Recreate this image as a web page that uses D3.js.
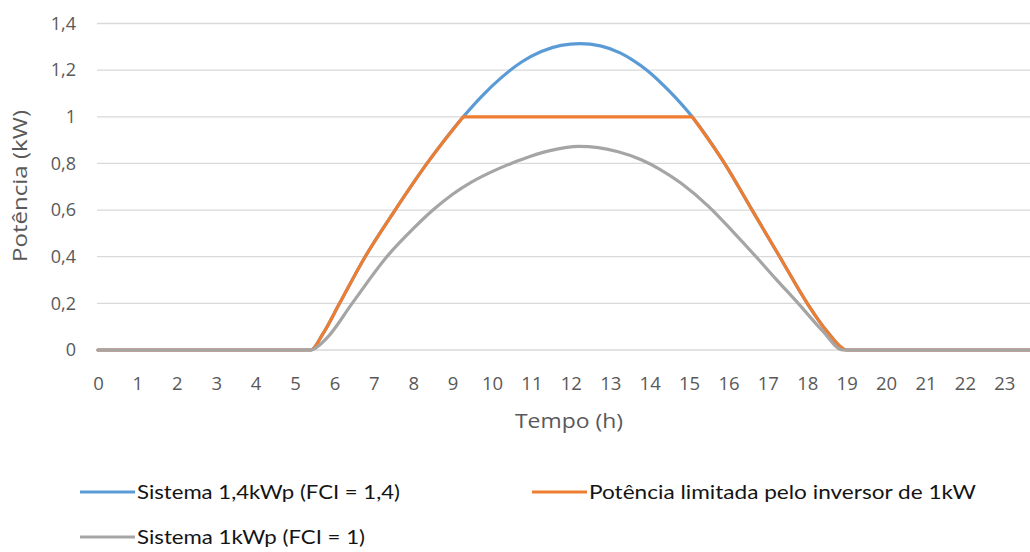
<!DOCTYPE html>
<html>
<head>
<meta charset="utf-8">
<script src="https://cdn.jsdelivr.net/npm/d3@7/dist/d3.min.js"></script>
<style>
  html, body { margin: 0; padding: 0; background: #ffffff; }
  svg { display: block; }
</style>
</head>
<body>
<svg id="chart" width="1030" height="552"></svg>
<script>
// Sistema 1,4kWp (FCI = 1,4): hour of day and power (kW)
const blueHours  = [0, 5.4, 5.71, 6.13, 6.78, 7.54, 8.35, 9.27, 9.75, 10.25, 10.75, 11.25, 11.75, 12.23,
                    12.75, 13.25, 13.6, 13.93, 14.5, 15.08, 15.9, 16.6, 17.3, 18.0, 18.5, 19.0, 23.83];
const blueValues = [0, 0,   0.07, 0.2,  0.4,  0.6,  0.8,  1.0,  1.09, 1.17,  1.235, 1.28,  1.306, 1.314,
                    1.304, 1.274, 1.24, 1.2,  1.11, 1.0,   0.8,  0.6,  0.4,  0.2,  0.08, 0,    0];

// Potência limitada pelo inversor de 1kW
const orangeHours  = [0, 5.4, 5.71, 6.13, 6.78, 7.54, 8.35, 9.27, 15.08, 15.9, 16.6, 17.3, 18.0, 18.5, 19.0, 23.83];
const orangeValues = [0, 0,   0.07, 0.2,  0.4,  0.6,  0.8,  1.0,  1.0,   0.8,  0.6,  0.4,  0.2,  0.08, 0,    0];

// Sistema 1kWp (FCI = 1)
const grayHours  = [0, 5.4, 5.8,  6.45, 7.33, 8.0,  8.5, 9.0,   9.5,   10.0,  10.5,  11.0,  11.5,  12.2,
                    13.2, 13.8,  14.26, 14.8,  15.5,  16.1, 16.7, 17.2,  17.77, 18.4, 18.9, 23.83];
const grayValues = [0, 0,   0.05, 0.2,  0.4,  0.52, 0.6, 0.668, 0.722, 0.765, 0.801, 0.832, 0.856, 0.873,
                    0.85, 0.815, 0.775, 0.715, 0.615, 0.51, 0.4,  0.305, 0.2,   0.08, 0,    0];

const inverterLimit = 1.0;

const yTicks = [0, 0.2, 0.4, 0.6, 0.8, 1, 1.2, 1.4];
const xTicks = d3.range(0, 24);

const seriesNames = ["Sistema 1,4kWp (FCI = 1,4)", "Potência limitada pelo inversor de 1kW", "Sistema 1kWp (FCI = 1)"];
const seriesColors = ["#5b9bd5", "#ed7d31", "#a5a5a5"];

const svg = d3.select("#chart");
const fontAxis = "'Open Sans', 'Noto Sans', sans-serif";

const x = d3.scaleLinear().domain([0, 23.83]).range([98, 1037]);
const y = d3.scaleLinear().domain([0, 1.4]).range([350, 23.5]);

// Horizontal gridlines
svg.append("g")
  .selectAll("line")
  .data(yTicks)
  .join("line")
  .attr("x1", 97).attr("x2", 1030)
  .attr("y1", d => y(d)).attr("y2", d => y(d))
  .attr("stroke", "#d9d9d9").attr("stroke-width", 1.3);

// Y axis labels
const fmt = d => String(d).replace(".", ",");
const yAxis = svg.append("g")
  .attr("transform", "translate(76,0)")
  .call(d3.axisLeft(y).tickValues(yTicks).tickFormat(fmt).tickSize(0).tickPadding(0));
yAxis.select(".domain").remove();
yAxis.selectAll("text")
  .attr("fill", "#595959")
  .style("font-family", fontAxis)
  .style("font-size", "18px");

// X axis labels
const xAxis = svg.append("g")
  .attr("transform", "translate(0,377)")
  .call(d3.axisBottom(x).tickValues(xTicks).tickFormat(d => d).tickSize(0).tickPadding(0));
xAxis.select(".domain").remove();
xAxis.selectAll("text")
  .attr("fill", "#595959")
  .style("font-family", fontAxis)
  .style("font-size", "18.5px");

// Axis titles
svg.append("text")
  .attr("x", 569).attr("y", 428)
  .attr("text-anchor", "middle")
  .attr("fill", "#595959")
  .attr("textLength", 108)
  .attr("lengthAdjust", "spacingAndGlyphs")
  .style("font-family", fontAxis)
  .style("font-size", "20.5px")
  .text("Tempo (h)");

svg.append("text")
  .attr("transform", "translate(27,186) rotate(-90)")
  .attr("text-anchor", "middle")
  .attr("fill", "#595959")
  .attr("textLength", 152)
  .attr("lengthAdjust", "spacingAndGlyphs")
  .style("font-family", fontAxis)
  .style("font-size", "20.5px")
  .text("Potência (kW)");

// Line generators
const smooth = d3.line().x(d => x(d[0])).y(d => y(d[1])).curve(d3.curveMonotoneX);
const straight = d3.line().x(d => x(d[0])).y(d => y(d[1]));
const pairs = (hs, vs) => hs.map((h, i) => [h, vs[i]]);

// Clipped series: smooth ramps, straight plateau at the inverter limit
function clippedPath(pts) {
  const first = pts.findIndex(p => p[1] >= inverterLimit);
  let last = -1;
  pts.forEach((p, i) => { if (p[1] >= inverterLimit) last = i; });
  const rise = smooth(pts.slice(0, first + 1));
  const flat = straight(pts.slice(first, last + 1)).replace(/^M/, "L");
  const fall = smooth(pts.slice(last)).replace(/^M/, "L");
  return rise + flat + fall;
}

const paths = [
  smooth(pairs(blueHours, blueValues)),
  clippedPath(pairs(orangeHours, orangeValues)),
  smooth(pairs(grayHours, grayValues))
];

svg.append("g")
  .selectAll("path")
  .data(paths)
  .join("path")
  .attr("d", d => d)
  .attr("fill", "none")
  .attr("stroke", (d, i) => seriesColors[i])
  .attr("stroke-width", 3.2)
  .attr("stroke-linejoin", "round")
  .attr("stroke-linecap", "round");

// Legend
const legendItems = [
  { k: 0, x: 80,  y: 492, w: 263 },
  { k: 1, x: 532, y: 492, w: 387 },
  { k: 2, x: 80,  y: 537, w: 228 }
];
const lg = svg.append("g");
legendItems.forEach(it => {
  lg.append("line")
    .attr("x1", it.x).attr("x2", it.x + 55)
    .attr("y1", it.y).attr("y2", it.y)
    .attr("stroke", seriesColors[it.k]).attr("stroke-width", 3.2);
  lg.append("text")
    .attr("x", it.x + 57).attr("y", it.y + 7)
    .attr("fill", "#141414")
    .attr("textLength", it.w)
    .attr("lengthAdjust", "spacingAndGlyphs")
    .style("font-family", "Lato, 'Noto Sans', sans-serif")
    .style("font-size", "20px")
    .text(seriesNames[it.k]);
});
</script>
</body>
</html>
